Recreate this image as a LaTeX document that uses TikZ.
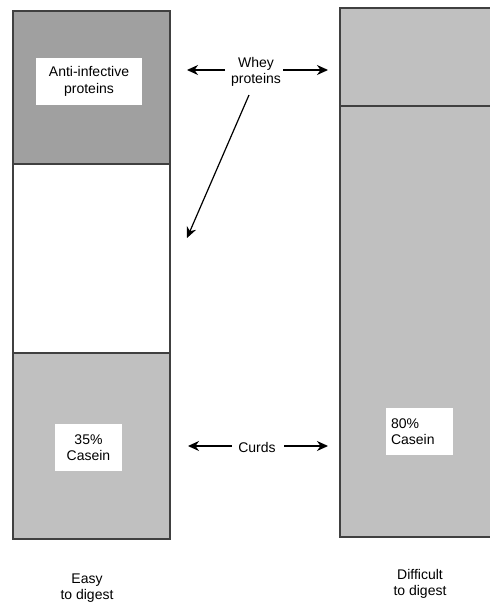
\documentclass[tikz,border=0pt]{standalone}
\usepackage{fontspec}
\setmainfont{Liberation Sans}
\usetikzlibrary{arrows.meta}
\definecolor{darkgr}{HTML}{A0A0A0}
\definecolor{lightgr}{HTML}{C0C0C0}
\definecolor{edge}{HTML}{404040}
\begin{document}
\begin{tikzpicture}[x=1pt,y=-1pt,
  section/.style={draw=edge,line width=1.2pt,anchor=north west,inner sep=0pt,outer sep=0pt},
  whitebox/.style={fill=white,inner sep=0pt,outer sep=0pt,align=center,
    font=\fontsize{14}{16.5}\selectfont},
  lbl/.style={inner sep=2pt,align=center,font=\fontsize{14}{16.5}\selectfont},
  arr/.style={line width=1.2pt,-{Stealth[length=11pt,width=10pt,inset=3.5pt]}}]
\useasboundingbox (0,0) rectangle (490,608);
% left column
\node[section,fill=darkgr,minimum width=157,minimum height=153] (lefttop) at (13,11) {};
\node[section,fill=white,minimum width=157,minimum height=189] (leftmid) at (13,164) {};
\node[section,fill=lightgr,minimum width=157,minimum height=186] (leftbot) at (13,353) {};
% right column
\node[section,fill=lightgr,minimum width=160,minimum height=98] (righttop) at (340,8) {};
\node[section,fill=lightgr,minimum width=160,minimum height=431] (rightbot) at (340,106) {};
% labels in boxes
\node[whitebox,minimum width=106,minimum height=47] (anti) at (89,81.5) {Anti-infective\\proteins};
\node[whitebox,minimum width=67,minimum height=47] (cas35) at (88.5,447.5) {35\%\\Casein};
\node[whitebox,minimum width=67,minimum height=47,text width=57,align=left] (cas80) at (419.5,431.5) {80\%\\Casein};
% whey proteins
\node[lbl] (whey) at (256,72) {Whey\\proteins};
\coordinate (wl) at (187,70);
\coordinate (wr) at (328,70);
\coordinate (wds) at (249,95);
\coordinate (wd) at (187,238);
\draw[arr] (225,70) -- (wl);
\draw[arr] (283,70) -- (wr);
\draw[arr] (wds) -- (wd);
% curds
\node[lbl] (curds) at (257,447) {Curds};
\coordinate (cl) at (188,446);
\coordinate (cr) at (328,446);
\draw[arr] (232,446) -- (cl);
\draw[arr] (284,446) -- (cr);
% bottom captions
\node[lbl] (easy) at (87,588) {Easy\\to digest};
\node[lbl] (diff) at (420,584) {Difficult\\to digest};
\end{tikzpicture}
\end{document}
